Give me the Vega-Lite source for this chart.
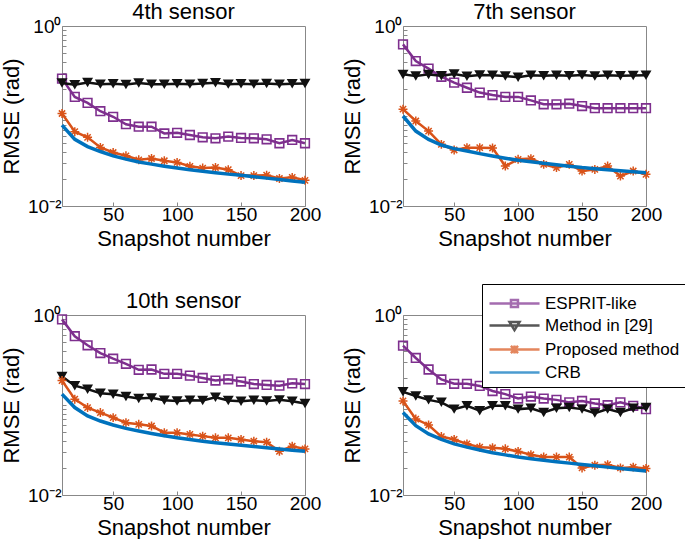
{
"$schema": "https://vega.github.io/schema/vega-lite/v6.json",
"background": "white",
"padding": {"left": 0, "top": 0, "right": 0, "bottom": 0},
"datasets": {"d": [
{"p":"4th sensor","s":"ESPRIT-like","x":10,"y":0.26},{"p":"4th sensor","s":"ESPRIT-like","x":20,"y":0.163},{"p":"4th sensor","s":"ESPRIT-like","x":30,"y":0.14},{"p":"4th sensor","s":"ESPRIT-like","x":40,"y":0.113},{"p":"4th sensor","s":"ESPRIT-like","x":50,"y":0.098},{"p":"4th sensor","s":"ESPRIT-like","x":60,"y":0.081},{"p":"4th sensor","s":"ESPRIT-like","x":70,"y":0.076},{"p":"4th sensor","s":"ESPRIT-like","x":80,"y":0.076},{"p":"4th sensor","s":"ESPRIT-like","x":90,"y":0.064},{"p":"4th sensor","s":"ESPRIT-like","x":100,"y":0.065},{"p":"4th sensor","s":"ESPRIT-like","x":110,"y":0.0615},{"p":"4th sensor","s":"ESPRIT-like","x":120,"y":0.058},{"p":"4th sensor","s":"ESPRIT-like","x":130,"y":0.0565},{"p":"4th sensor","s":"ESPRIT-like","x":140,"y":0.059},{"p":"4th sensor","s":"ESPRIT-like","x":150,"y":0.057},{"p":"4th sensor","s":"ESPRIT-like","x":160,"y":0.0565},{"p":"4th sensor","s":"ESPRIT-like","x":170,"y":0.0551},{"p":"4th sensor","s":"ESPRIT-like","x":180,"y":0.0498},{"p":"4th sensor","s":"ESPRIT-like","x":190,"y":0.0542},{"p":"4th sensor","s":"ESPRIT-like","x":200,"y":0.0498},
{"p":"4th sensor","s":"Method in [29]","x":10,"y":0.232},{"p":"4th sensor","s":"Method in [29]","x":20,"y":0.222},{"p":"4th sensor","s":"Method in [29]","x":30,"y":0.236},{"p":"4th sensor","s":"Method in [29]","x":40,"y":0.226},{"p":"4th sensor","s":"Method in [29]","x":50,"y":0.228},{"p":"4th sensor","s":"Method in [29]","x":60,"y":0.224},{"p":"4th sensor","s":"Method in [29]","x":70,"y":0.232},{"p":"4th sensor","s":"Method in [29]","x":80,"y":0.226},{"p":"4th sensor","s":"Method in [29]","x":90,"y":0.225},{"p":"4th sensor","s":"Method in [29]","x":100,"y":0.228},{"p":"4th sensor","s":"Method in [29]","x":110,"y":0.226},{"p":"4th sensor","s":"Method in [29]","x":120,"y":0.229},{"p":"4th sensor","s":"Method in [29]","x":130,"y":0.234},{"p":"4th sensor","s":"Method in [29]","x":140,"y":0.226},{"p":"4th sensor","s":"Method in [29]","x":150,"y":0.228},{"p":"4th sensor","s":"Method in [29]","x":160,"y":0.226},{"p":"4th sensor","s":"Method in [29]","x":170,"y":0.23},{"p":"4th sensor","s":"Method in [29]","x":180,"y":0.226},{"p":"4th sensor","s":"Method in [29]","x":190,"y":0.228},{"p":"4th sensor","s":"Method in [29]","x":200,"y":0.229},
{"p":"4th sensor","s":"Proposed method","x":10,"y":0.1066},{"p":"4th sensor","s":"Proposed method","x":20,"y":0.067},{"p":"4th sensor","s":"Proposed method","x":30,"y":0.058},{"p":"4th sensor","s":"Proposed method","x":40,"y":0.0447},{"p":"4th sensor","s":"Proposed method","x":50,"y":0.0393},{"p":"4th sensor","s":"Proposed method","x":60,"y":0.0361},{"p":"4th sensor","s":"Proposed method","x":70,"y":0.0326},{"p":"4th sensor","s":"Proposed method","x":80,"y":0.0337},{"p":"4th sensor","s":"Proposed method","x":90,"y":0.0318},{"p":"4th sensor","s":"Proposed method","x":100,"y":0.0305},{"p":"4th sensor","s":"Proposed method","x":110,"y":0.0276},{"p":"4th sensor","s":"Proposed method","x":120,"y":0.0264},{"p":"4th sensor","s":"Proposed method","x":130,"y":0.0268},{"p":"4th sensor","s":"Proposed method","x":140,"y":0.0253},{"p":"4th sensor","s":"Proposed method","x":150,"y":0.0218},{"p":"4th sensor","s":"Proposed method","x":160,"y":0.0218},{"p":"4th sensor","s":"Proposed method","x":170,"y":0.022},{"p":"4th sensor","s":"Proposed method","x":180,"y":0.0202},{"p":"4th sensor","s":"Proposed method","x":190,"y":0.0208},{"p":"4th sensor","s":"Proposed method","x":200,"y":0.0193},
{"p":"4th sensor","s":"CRB","x":10,"y":0.0793},{"p":"4th sensor","s":"CRB","x":20,"y":0.0551},{"p":"4th sensor","s":"CRB","x":30,"y":0.0457},{"p":"4th sensor","s":"CRB","x":40,"y":0.0403},{"p":"4th sensor","s":"CRB","x":50,"y":0.0361},{"p":"4th sensor","s":"CRB","x":60,"y":0.0332},{"p":"4th sensor","s":"CRB","x":70,"y":0.0308},{"p":"4th sensor","s":"CRB","x":80,"y":0.0292},{"p":"4th sensor","s":"CRB","x":90,"y":0.0277},{"p":"4th sensor","s":"CRB","x":100,"y":0.0264},{"p":"4th sensor","s":"CRB","x":110,"y":0.0253},{"p":"4th sensor","s":"CRB","x":120,"y":0.0243},{"p":"4th sensor","s":"CRB","x":130,"y":0.0234},{"p":"4th sensor","s":"CRB","x":140,"y":0.0226},{"p":"4th sensor","s":"CRB","x":150,"y":0.0219},{"p":"4th sensor","s":"CRB","x":160,"y":0.0211},{"p":"4th sensor","s":"CRB","x":170,"y":0.0204},{"p":"4th sensor","s":"CRB","x":180,"y":0.0197},{"p":"4th sensor","s":"CRB","x":190,"y":0.019},{"p":"4th sensor","s":"CRB","x":200,"y":0.0184},
{"p":"7th sensor","s":"ESPRIT-like","x":10,"y":0.625},{"p":"7th sensor","s":"ESPRIT-like","x":20,"y":0.408},{"p":"7th sensor","s":"ESPRIT-like","x":30,"y":0.336},{"p":"7th sensor","s":"ESPRIT-like","x":40,"y":0.273},{"p":"7th sensor","s":"ESPRIT-like","x":50,"y":0.235},{"p":"7th sensor","s":"ESPRIT-like","x":60,"y":0.206},{"p":"7th sensor","s":"ESPRIT-like","x":70,"y":0.182},{"p":"7th sensor","s":"ESPRIT-like","x":80,"y":0.171},{"p":"7th sensor","s":"ESPRIT-like","x":90,"y":0.163},{"p":"7th sensor","s":"ESPRIT-like","x":100,"y":0.163},{"p":"7th sensor","s":"ESPRIT-like","x":110,"y":0.149},{"p":"7th sensor","s":"ESPRIT-like","x":120,"y":0.135},{"p":"7th sensor","s":"ESPRIT-like","x":130,"y":0.135},{"p":"7th sensor","s":"ESPRIT-like","x":140,"y":0.137},{"p":"7th sensor","s":"ESPRIT-like","x":150,"y":0.129},{"p":"7th sensor","s":"ESPRIT-like","x":160,"y":0.122},{"p":"7th sensor","s":"ESPRIT-like","x":170,"y":0.122},{"p":"7th sensor","s":"ESPRIT-like","x":180,"y":0.122},{"p":"7th sensor","s":"ESPRIT-like","x":190,"y":0.122},{"p":"7th sensor","s":"ESPRIT-like","x":200,"y":0.122},
{"p":"7th sensor","s":"Method in [29]","x":10,"y":0.29},{"p":"7th sensor","s":"Method in [29]","x":20,"y":0.278},{"p":"7th sensor","s":"Method in [29]","x":30,"y":0.29},{"p":"7th sensor","s":"Method in [29]","x":40,"y":0.28},{"p":"7th sensor","s":"Method in [29]","x":50,"y":0.292},{"p":"7th sensor","s":"Method in [29]","x":60,"y":0.276},{"p":"7th sensor","s":"Method in [29]","x":70,"y":0.285},{"p":"7th sensor","s":"Method in [29]","x":80,"y":0.283},{"p":"7th sensor","s":"Method in [29]","x":90,"y":0.278},{"p":"7th sensor","s":"Method in [29]","x":100,"y":0.27},{"p":"7th sensor","s":"Method in [29]","x":110,"y":0.284},{"p":"7th sensor","s":"Method in [29]","x":120,"y":0.28},{"p":"7th sensor","s":"Method in [29]","x":130,"y":0.283},{"p":"7th sensor","s":"Method in [29]","x":140,"y":0.28},{"p":"7th sensor","s":"Method in [29]","x":150,"y":0.285},{"p":"7th sensor","s":"Method in [29]","x":160,"y":0.278},{"p":"7th sensor","s":"Method in [29]","x":170,"y":0.284},{"p":"7th sensor","s":"Method in [29]","x":180,"y":0.28},{"p":"7th sensor","s":"Method in [29]","x":190,"y":0.282},{"p":"7th sensor","s":"Method in [29]","x":200,"y":0.284},
{"p":"7th sensor","s":"Proposed method","x":10,"y":0.119},{"p":"7th sensor","s":"Proposed method","x":20,"y":0.088},{"p":"7th sensor","s":"Proposed method","x":30,"y":0.068},{"p":"7th sensor","s":"Proposed method","x":40,"y":0.0484},{"p":"7th sensor","s":"Proposed method","x":50,"y":0.0419},{"p":"7th sensor","s":"Proposed method","x":60,"y":0.0445},{"p":"7th sensor","s":"Proposed method","x":70,"y":0.0445},{"p":"7th sensor","s":"Proposed method","x":80,"y":0.0441},{"p":"7th sensor","s":"Proposed method","x":90,"y":0.0278},{"p":"7th sensor","s":"Proposed method","x":100,"y":0.033},{"p":"7th sensor","s":"Proposed method","x":110,"y":0.0336},{"p":"7th sensor","s":"Proposed method","x":120,"y":0.029},{"p":"7th sensor","s":"Proposed method","x":130,"y":0.0267},{"p":"7th sensor","s":"Proposed method","x":140,"y":0.029},{"p":"7th sensor","s":"Proposed method","x":150,"y":0.0245},{"p":"7th sensor","s":"Proposed method","x":160,"y":0.0255},{"p":"7th sensor","s":"Proposed method","x":170,"y":0.0278},{"p":"7th sensor","s":"Proposed method","x":180,"y":0.0215},{"p":"7th sensor","s":"Proposed method","x":190,"y":0.0245},{"p":"7th sensor","s":"Proposed method","x":200,"y":0.0225},
{"p":"7th sensor","s":"CRB","x":10,"y":0.1},{"p":"7th sensor","s":"CRB","x":20,"y":0.068},{"p":"7th sensor","s":"CRB","x":30,"y":0.055},{"p":"7th sensor","s":"CRB","x":40,"y":0.0476},{"p":"7th sensor","s":"CRB","x":50,"y":0.0434},{"p":"7th sensor","s":"CRB","x":60,"y":0.0408},{"p":"7th sensor","s":"CRB","x":70,"y":0.0382},{"p":"7th sensor","s":"CRB","x":80,"y":0.036},{"p":"7th sensor","s":"CRB","x":90,"y":0.034},{"p":"7th sensor","s":"CRB","x":100,"y":0.0322},{"p":"7th sensor","s":"CRB","x":110,"y":0.031},{"p":"7th sensor","s":"CRB","x":120,"y":0.0298},{"p":"7th sensor","s":"CRB","x":130,"y":0.0288},{"p":"7th sensor","s":"CRB","x":140,"y":0.0277},{"p":"7th sensor","s":"CRB","x":150,"y":0.0267},{"p":"7th sensor","s":"CRB","x":160,"y":0.026},{"p":"7th sensor","s":"CRB","x":170,"y":0.0253},{"p":"7th sensor","s":"CRB","x":180,"y":0.0246},{"p":"7th sensor","s":"CRB","x":190,"y":0.024},{"p":"7th sensor","s":"CRB","x":200,"y":0.0234},
{"p":"10th sensor","s":"ESPRIT-like","x":10,"y":0.894},{"p":"10th sensor","s":"ESPRIT-like","x":20,"y":0.581},{"p":"10th sensor","s":"ESPRIT-like","x":30,"y":0.461},{"p":"10th sensor","s":"ESPRIT-like","x":40,"y":0.378},{"p":"10th sensor","s":"ESPRIT-like","x":50,"y":0.327},{"p":"10th sensor","s":"ESPRIT-like","x":60,"y":0.287},{"p":"10th sensor","s":"ESPRIT-like","x":70,"y":0.246},{"p":"10th sensor","s":"ESPRIT-like","x":80,"y":0.248},{"p":"10th sensor","s":"ESPRIT-like","x":90,"y":0.222},{"p":"10th sensor","s":"ESPRIT-like","x":100,"y":0.222},{"p":"10th sensor","s":"ESPRIT-like","x":110,"y":0.212},{"p":"10th sensor","s":"ESPRIT-like","x":120,"y":0.2},{"p":"10th sensor","s":"ESPRIT-like","x":130,"y":0.187},{"p":"10th sensor","s":"ESPRIT-like","x":140,"y":0.193},{"p":"10th sensor","s":"ESPRIT-like","x":150,"y":0.182},{"p":"10th sensor","s":"ESPRIT-like","x":160,"y":0.171},{"p":"10th sensor","s":"ESPRIT-like","x":170,"y":0.167},{"p":"10th sensor","s":"ESPRIT-like","x":180,"y":0.164},{"p":"10th sensor","s":"ESPRIT-like","x":190,"y":0.174},{"p":"10th sensor","s":"ESPRIT-like","x":200,"y":0.171},
{"p":"10th sensor","s":"Method in [29]","x":10,"y":0.207},{"p":"10th sensor","s":"Method in [29]","x":20,"y":0.164},{"p":"10th sensor","s":"Method in [29]","x":30,"y":0.15},{"p":"10th sensor","s":"Method in [29]","x":40,"y":0.135},{"p":"10th sensor","s":"Method in [29]","x":50,"y":0.132},{"p":"10th sensor","s":"Method in [29]","x":60,"y":0.124},{"p":"10th sensor","s":"Method in [29]","x":70,"y":0.118},{"p":"10th sensor","s":"Method in [29]","x":80,"y":0.12},{"p":"10th sensor","s":"Method in [29]","x":90,"y":0.113},{"p":"10th sensor","s":"Method in [29]","x":100,"y":0.111},{"p":"10th sensor","s":"Method in [29]","x":110,"y":0.113},{"p":"10th sensor","s":"Method in [29]","x":120,"y":0.112},{"p":"10th sensor","s":"Method in [29]","x":130,"y":0.122},{"p":"10th sensor","s":"Method in [29]","x":140,"y":0.112},{"p":"10th sensor","s":"Method in [29]","x":150,"y":0.11},{"p":"10th sensor","s":"Method in [29]","x":160,"y":0.113},{"p":"10th sensor","s":"Method in [29]","x":170,"y":0.111},{"p":"10th sensor","s":"Method in [29]","x":180,"y":0.114},{"p":"10th sensor","s":"Method in [29]","x":190,"y":0.11},{"p":"10th sensor","s":"Method in [29]","x":200,"y":0.104},
{"p":"10th sensor","s":"Proposed method","x":10,"y":0.187},{"p":"10th sensor","s":"Proposed method","x":20,"y":0.116},{"p":"10th sensor","s":"Proposed method","x":30,"y":0.0937},{"p":"10th sensor","s":"Proposed method","x":40,"y":0.0824},{"p":"10th sensor","s":"Proposed method","x":50,"y":0.0724},{"p":"10th sensor","s":"Proposed method","x":60,"y":0.0636},{"p":"10th sensor","s":"Proposed method","x":70,"y":0.061},{"p":"10th sensor","s":"Proposed method","x":80,"y":0.0584},{"p":"10th sensor","s":"Proposed method","x":90,"y":0.0492},{"p":"10th sensor","s":"Proposed method","x":100,"y":0.0492},{"p":"10th sensor","s":"Proposed method","x":110,"y":0.0471},{"p":"10th sensor","s":"Proposed method","x":120,"y":0.0451},{"p":"10th sensor","s":"Proposed method","x":130,"y":0.0432},{"p":"10th sensor","s":"Proposed method","x":140,"y":0.0432},{"p":"10th sensor","s":"Proposed method","x":150,"y":0.0414},{"p":"10th sensor","s":"Proposed method","x":160,"y":0.0396},{"p":"10th sensor","s":"Proposed method","x":170,"y":0.0386},{"p":"10th sensor","s":"Proposed method","x":180,"y":0.0306},{"p":"10th sensor","s":"Proposed method","x":190,"y":0.0348},{"p":"10th sensor","s":"Proposed method","x":200,"y":0.0325},
{"p":"10th sensor","s":"CRB","x":10,"y":0.132},{"p":"10th sensor","s":"CRB","x":20,"y":0.0937},{"p":"10th sensor","s":"CRB","x":30,"y":0.0756},{"p":"10th sensor","s":"CRB","x":40,"y":0.0664},{"p":"10th sensor","s":"CRB","x":50,"y":0.06},{"p":"10th sensor","s":"CRB","x":60,"y":0.055},{"p":"10th sensor","s":"CRB","x":70,"y":0.0514},{"p":"10th sensor","s":"CRB","x":80,"y":0.0483},{"p":"10th sensor","s":"CRB","x":90,"y":0.0456},{"p":"10th sensor","s":"CRB","x":100,"y":0.0432},{"p":"10th sensor","s":"CRB","x":110,"y":0.0413},{"p":"10th sensor","s":"CRB","x":120,"y":0.0396},{"p":"10th sensor","s":"CRB","x":130,"y":0.0381},{"p":"10th sensor","s":"CRB","x":140,"y":0.0369},{"p":"10th sensor","s":"CRB","x":150,"y":0.0357},{"p":"10th sensor","s":"CRB","x":160,"y":0.0345},{"p":"10th sensor","s":"CRB","x":170,"y":0.0334},{"p":"10th sensor","s":"CRB","x":180,"y":0.0324},{"p":"10th sensor","s":"CRB","x":190,"y":0.0315},{"p":"10th sensor","s":"CRB","x":200,"y":0.0306},
{"p":"bottom right","s":"ESPRIT-like","x":10,"y":0.456},{"p":"bottom right","s":"ESPRIT-like","x":20,"y":0.333},{"p":"bottom right","s":"ESPRIT-like","x":30,"y":0.248},{"p":"bottom right","s":"ESPRIT-like","x":40,"y":0.192},{"p":"bottom right","s":"ESPRIT-like","x":50,"y":0.172},{"p":"bottom right","s":"ESPRIT-like","x":60,"y":0.172},{"p":"bottom right","s":"ESPRIT-like","x":70,"y":0.163},{"p":"bottom right","s":"ESPRIT-like","x":80,"y":0.143},{"p":"bottom right","s":"ESPRIT-like","x":90,"y":0.132},{"p":"bottom right","s":"ESPRIT-like","x":100,"y":0.118},{"p":"bottom right","s":"ESPRIT-like","x":110,"y":0.124},{"p":"bottom right","s":"ESPRIT-like","x":120,"y":0.118},{"p":"bottom right","s":"ESPRIT-like","x":130,"y":0.114},{"p":"bottom right","s":"ESPRIT-like","x":140,"y":0.107},{"p":"bottom right","s":"ESPRIT-like","x":150,"y":0.111},{"p":"bottom right","s":"ESPRIT-like","x":160,"y":0.104},{"p":"bottom right","s":"ESPRIT-like","x":170,"y":0.0996},{"p":"bottom right","s":"ESPRIT-like","x":180,"y":0.107},{"p":"bottom right","s":"ESPRIT-like","x":190,"y":0.098},{"p":"bottom right","s":"ESPRIT-like","x":200,"y":0.09},
{"p":"bottom right","s":"Method in [29]","x":10,"y":0.14},{"p":"bottom right","s":"Method in [29]","x":20,"y":0.126},{"p":"bottom right","s":"Method in [29]","x":30,"y":0.114},{"p":"bottom right","s":"Method in [29]","x":40,"y":0.107},{"p":"bottom right","s":"Method in [29]","x":50,"y":0.09},{"p":"bottom right","s":"Method in [29]","x":60,"y":0.098},{"p":"bottom right","s":"Method in [29]","x":70,"y":0.0863},{"p":"bottom right","s":"Method in [29]","x":80,"y":0.098},{"p":"bottom right","s":"Method in [29]","x":90,"y":0.098},{"p":"bottom right","s":"Method in [29]","x":100,"y":0.09},{"p":"bottom right","s":"Method in [29]","x":110,"y":0.092},{"p":"bottom right","s":"Method in [29]","x":120,"y":0.0826},{"p":"bottom right","s":"Method in [29]","x":130,"y":0.092},{"p":"bottom right","s":"Method in [29]","x":140,"y":0.094},{"p":"bottom right","s":"Method in [29]","x":150,"y":0.09},{"p":"bottom right","s":"Method in [29]","x":160,"y":0.0813},{"p":"bottom right","s":"Method in [29]","x":170,"y":0.09},{"p":"bottom right","s":"Method in [29]","x":180,"y":0.0826},{"p":"bottom right","s":"Method in [29]","x":190,"y":0.092},{"p":"bottom right","s":"Method in [29]","x":200,"y":0.0938},
{"p":"bottom right","s":"Proposed method","x":10,"y":0.111},{"p":"bottom right","s":"Proposed method","x":20,"y":0.0698},{"p":"bottom right","s":"Proposed method","x":30,"y":0.06},{"p":"bottom right","s":"Proposed method","x":40,"y":0.0446},{"p":"bottom right","s":"Proposed method","x":50,"y":0.0414},{"p":"bottom right","s":"Proposed method","x":60,"y":0.037},{"p":"bottom right","s":"Proposed method","x":70,"y":0.034},{"p":"bottom right","s":"Proposed method","x":80,"y":0.0335},{"p":"bottom right","s":"Proposed method","x":90,"y":0.0326},{"p":"bottom right","s":"Proposed method","x":100,"y":0.0305},{"p":"bottom right","s":"Proposed method","x":110,"y":0.028},{"p":"bottom right","s":"Proposed method","x":120,"y":0.0264},{"p":"bottom right","s":"Proposed method","x":130,"y":0.0264},{"p":"bottom right","s":"Proposed method","x":140,"y":0.0264},{"p":"bottom right","s":"Proposed method","x":150,"y":0.02},{"p":"bottom right","s":"Proposed method","x":160,"y":0.0214},{"p":"bottom right","s":"Proposed method","x":170,"y":0.0217},{"p":"bottom right","s":"Proposed method","x":180,"y":0.02},{"p":"bottom right","s":"Proposed method","x":190,"y":0.0204},{"p":"bottom right","s":"Proposed method","x":200,"y":0.0197},
{"p":"bottom right","s":"CRB","x":10,"y":0.0826},{"p":"bottom right","s":"CRB","x":20,"y":0.059},{"p":"bottom right","s":"CRB","x":30,"y":0.0477},{"p":"bottom right","s":"CRB","x":40,"y":0.0414},{"p":"bottom right","s":"CRB","x":50,"y":0.037},{"p":"bottom right","s":"CRB","x":60,"y":0.034},{"p":"bottom right","s":"CRB","x":70,"y":0.0316},{"p":"bottom right","s":"CRB","x":80,"y":0.0295},{"p":"bottom right","s":"CRB","x":90,"y":0.0279},{"p":"bottom right","s":"CRB","x":100,"y":0.0264},{"p":"bottom right","s":"CRB","x":110,"y":0.0253},{"p":"bottom right","s":"CRB","x":120,"y":0.0243},{"p":"bottom right","s":"CRB","x":130,"y":0.0234},{"p":"bottom right","s":"CRB","x":140,"y":0.0226},{"p":"bottom right","s":"CRB","x":150,"y":0.0218},{"p":"bottom right","s":"CRB","x":160,"y":0.0211},{"p":"bottom right","s":"CRB","x":170,"y":0.0204},{"p":"bottom right","s":"CRB","x":180,"y":0.0197},{"p":"bottom right","s":"CRB","x":190,"y":0.0191},{"p":"bottom right","s":"CRB","x":200,"y":0.0185}
]},
"data": {"name": "d"},
"facet": {"field": "p", "type": "nominal", "sort": ["4th sensor", "7th sensor", "10th sensor", "bottom right"],
  "header": {"title": null, "labelFontSize": 22, "labelFont": "Liberation Sans", "labelColor": "black", "labelPadding": -7, "labelExpr": "datum.value == 'bottom right' ? '' : datum.value"}},
"columns": 2,
"spacing": {"row": 39, "column": 19},
"resolve": {"axis": {"x": "independent", "y": "independent"}},
"spec": {
  "width": 243, "height": 180,
  "encoding": {
    "x": {"field": "x", "type": "quantitative", "scale": {"domain": [10, 200], "nice": false, "zero": false},
      "axis": {"title": "Snapshot number", "values": [50, 100, 150, 200], "labelPadding": 3}},
    "y": {"field": "y", "type": "quantitative", "scale": {"type": "log", "domain": [0.01, 1], "nice": false},
      "axis": {"title": "RMSE (rad)", "labelPadding": 5, "values": [0.01,0.02,0.03,0.04,0.05,0.06,0.07,0.08,0.09,0.1,0.2,0.3,0.4,0.5,0.6,0.7,0.8,0.9,1],
        "labelExpr": "datum.value == 1 ? '10⁰' : (datum.value == 0.01 ? '10⁻²' : '')"}}
  },
  "layer": [
    {"transform": [{"filter": "datum.s == 'ESPRIT-like'"}], "mark": {"type": "line", "strokeWidth": 2.5, "color": "#7E2F8E"}},
    {"transform": [{"filter": "datum.s == 'ESPRIT-like'"}],
     "mark": {"type": "point", "shape": "square", "filled": false, "size": 75, "strokeWidth": 1.6, "color": "#7E2F8E", "opacity": 1}},
    {"transform": [{"filter": "datum.s == 'Method in [29]'"}], "mark": {"type": "line", "strokeWidth": 2.5, "color": "#111111"}},
    {"transform": [{"filter": "datum.s == 'Method in [29]'"}],
     "mark": {"type": "point", "shape": "triangle-down", "filled": true, "size": 120, "color": "#111111", "opacity": 1}},
    {"transform": [{"filter": "datum.s == 'Proposed method'"}], "mark": {"type": "line", "strokeWidth": 2.5, "color": "#D95319"}},
    {"transform": [{"filter": "datum.s == 'Proposed method'"}],
     "mark": {"type": "point", "shape": "M-1,0L1,0M0,-1L0,1M-0.7,-0.7L0.7,0.7M-0.7,0.7L0.7,-0.7", "filled": false, "size": 80, "strokeWidth": 1.5, "color": "#D95319", "opacity": 1}},
    {"transform": [{"filter": "datum.s == 'CRB'"}],
     "mark": {"type": "line", "strokeWidth": 3.5, "color": "#0072BD"}},
    {"transform": [{"filter": "datum.x < 0"}],
     "mark": {"type": "point", "filled": false},
     "encoding": {
       "color": {"field": "s", "type": "nominal",
         "scale": {"domain": ["ESPRIT-like", "Method in [29]", "Proposed method", "CRB"], "range": ["#7E2F8E", "#111111", "#D95319", "#0072BD"]},
         "legend": {"title": null, "orient": "none", "legendX": 420, "legendY": 258}},
       "shape": {"field": "s", "type": "nominal",
         "scale": {"domain": ["ESPRIT-like", "Method in [29]", "Proposed method", "CRB"],
           "range": ["M-1,0L3.17,0M0.79,-0.29L1.37,-0.29L1.37,0.29L0.79,0.29Z", "M-1,0L3.17,0M0.67,-0.29L1.5,-0.29L1.083,0.38Z", "M-1,0L3.17,0M0.78,-0.3L1.38,0.3M0.78,0.3L1.38,-0.3M1.083,-0.33L1.083,0.33", "M-1,0L3.17,0"]},
         "legend": {"title": null, "orient": "none", "legendX": 420, "legendY": 258}}
     }}
  ]
},
"config": {
  "font": "Liberation Sans",
  "view": {"stroke": "#888888", "strokeWidth": 1},
  "axis": {"domain": false, "grid": false, "tickColor": "#888888", "tickSize": -4, "labelFlush": false, "labelOverlap": false,
    "labelFont": "Liberation Sans", "labelFontSize": 19, "labelColor": "black",
    "titleFont": "Liberation Sans", "titleFontSize": 22, "titleFontWeight": "normal", "titleColor": "black", "titlePadding": 4},
  "legend": {"labelFont": "Liberation Sans", "labelFontSize": 17, "labelColor": "black", "symbolSize": 576, "symbolStrokeWidth": 2.5,
    "strokeColor": "black", "fillColor": "white", "padding": 6, "rowPadding": 0, "labelOffset": 30}
}
}
